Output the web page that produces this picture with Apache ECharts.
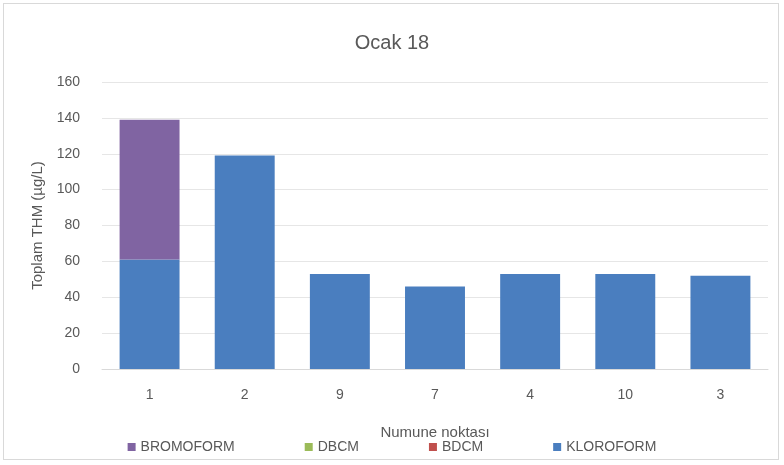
<!DOCTYPE html>
<html>
<head>
<meta charset="utf-8">
<script src="https://cdn.jsdelivr.net/npm/echarts@6/dist/echarts.min.js"></script>
<style>
  html, body { margin: 0; padding: 0; background: #fff; }
  #chart { width: 784px; height: 465px; }
  .frame { position: absolute; left: 3px; top: 3px; width: 776px; height: 457px; border: 1px solid #d9d9d9; box-sizing: border-box; pointer-events: none; }
</style>
</head>
<body>
<div id="chart"></div>
<div class="frame"></div>
<script>
const categories = ['1', '2', '9', '7', '4', '10', '3']
const kloroform = [61, 119, 53, 46, 53, 53, 52]
const bdcm = [0, 0, 0, 0, 0, 0, 0]
const dbcm = [0, 0, 0, 0, 0, 0, 0]
const bromoform = [78, 0, 0, 0, 0, 0, 0]
const legendOrder = ['BROMOFORM', 'DBCM', 'BDCM', 'KLOROFORM']

const textColor = '#595959'
const font = 'Liberation Sans, Noto Sans, sans-serif'

const chart = echarts.init(document.getElementById('chart'))

function bar(name, data, color) {
  return {
    name,
    type: 'bar',
    stack: 'thm',
    data,
    barWidth: '63%',
    itemStyle: { color },
    emphasis: { disabled: true }
  }
}

chart.setOption({
  animation: false,
  title: {
    text: 'Ocak 18',
    left: 'center',
    top: 28,
    textStyle: { color: textColor, fontSize: 20, fontWeight: 'normal', fontFamily: font }
  },
  legend: {
    data: legendOrder,
    bottom: 6,
    left: 'center',
    itemWidth: 8,
    itemHeight: 8,
    itemGap: 70,
    icon: 'rect',
    textStyle: { color: textColor, fontSize: 14, fontFamily: font }
  },
  grid: { left: 102, right: 16, top: 82, bottom: 96 },
  xAxis: {
    type: 'category',
    data: categories,
    name: 'Numune noktası',
    nameLocation: 'middle',
    nameGap: 56,
    nameTextStyle: { color: textColor, fontSize: 15, fontFamily: font },
    axisTick: { show: false },
    axisLine: { lineStyle: { color: '#d9d9d9' } },
    axisLabel: { color: textColor, fontSize: 14, margin: 19, fontFamily: font }
  },
  yAxis: {
    type: 'value',
    min: 0,
    max: 160,
    interval: 20,
    name: 'Toplam THM (µg/L)',
    nameLocation: 'middle',
    nameGap: 54,
    nameTextStyle: { color: textColor, fontSize: 15, fontFamily: font },
    axisLine: { show: false },
    axisTick: { show: false },
    splitLine: { lineStyle: { color: '#e6e6e6' } },
    axisLabel: { color: textColor, fontSize: 14, margin: 22, fontFamily: font }
  },
  series: [
    bar('KLOROFORM', kloroform, '#4a7ebf'),
    bar('BDCM', bdcm, '#c0504d'),
    bar('DBCM', dbcm, '#9bbb59'),
    bar('BROMOFORM', bromoform, '#8064a2')
  ]
})
</script>
</body>
</html>
